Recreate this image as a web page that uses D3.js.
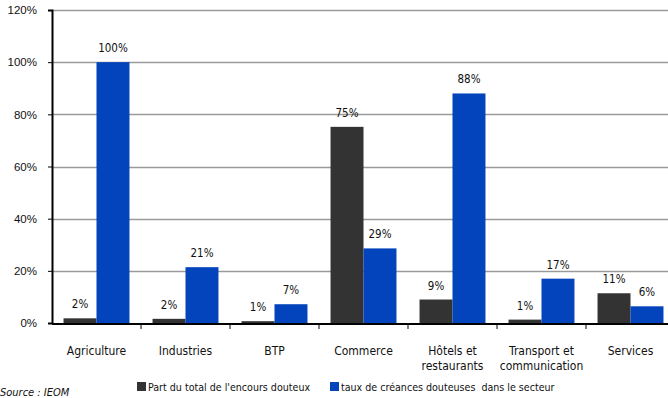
<!DOCTYPE html>
<html><head><meta charset="utf-8">
<script src="https://cdn.jsdelivr.net/npm/d3@7"></script>
<style>
body{margin:0;background:#fff;}
svg{display:block;font-family:"DejaVu Sans Condensed","DejaVu Sans",sans-serif;}
</style></head><body>
<svg id="c" width="668" height="398"></svg>
<script>
const categories = [["Agriculture"],["Industries"],["BTP"],["Commerce"],["Hôtels et","restaurants"],["Transport et","communication"],["Services"]];
const partTotal = [1.8, 1.6, 0.7, 75.2, 9.0, 1.3, 11.4];
const tauxCreances = [100, 21.4, 7.2, 28.6, 88.0, 17.0, 6.4];
const yTicks = [0, 20, 40, 60, 80, 100, 120];
const seriesNames = ["Part du total de l'encours douteux", "taux de créances douteuses  dans le secteur"];
const colors = ["#333333", "#0343bb"];

(function(){
const svg = d3.select("#c");
const mL = 52, mR = 675, mT = 10, mB = 323;
const x = d3.scaleBand().domain(d3.range(categories.length)).range([mL, mR]).paddingInner(0).paddingOuter(0);
const x1 = d3.scaleBand().domain([0,1]).range([0, x.bandwidth()]).paddingInner(0).paddingOuter(0.35);
const y = d3.scaleLinear().domain([0,120]).range([mB, mT]);

// gridlines
svg.append("g").selectAll("line").data(yTicks.filter(d=>d>0)).join("line")
  .attr("x1", mL).attr("x2", 668).attr("y1", d=>Math.round(y(d))+0.5).attr("y2", d=>Math.round(y(d))+0.5)
  .attr("stroke", "#9a9a9a").attr("stroke-width", 1.5);

// y axis
const ya = svg.append("g").attr("transform", `translate(${mL},0)`)
  .call(d3.axisLeft(y).tickValues(yTicks).tickFormat(d=>d+"%").tickSize(4).tickPadding(11));
ya.select(".domain").attr("stroke","#000").attr("stroke-width",2);
ya.selectAll(".tick line").attr("stroke","#000");
ya.selectAll("text").attr("font-size", 11.5).attr("fill","#111").attr("font-family","inherit");

// bars
const data = categories.map((c,i)=>({i, vals:[partTotal[i], tauxCreances[i]]}));
const g = svg.append("g").selectAll("g").data(data).join("g")
  .attr("transform", d=>`translate(${x(d.i)},0)`);
g.selectAll("rect").data(d=>d.vals.map((v,k)=>({v,k}))).join("rect")
  .attr("x", d=>x1(d.k)).attr("width", x1.bandwidth())
  .attr("y", d=>y(d.v)).attr("height", d=>mB - y(d.v))
  .attr("fill", d=>colors[d.k]);
g.selectAll("text.lbl").data(d=>d.vals.map((v,k)=>({v,k}))).join("text")
  .attr("class","lbl")
  .attr("x", d=>x1(d.k)+x1.bandwidth()/2).attr("y", d=>y(d.v)-10)
  .attr("text-anchor","middle").attr("font-size",11.5).attr("fill","#111")
  .text(d=>Math.round(d.v)+"%");

// x axis
const xa = svg.append("g").attr("transform", `translate(0,${mB+1})`);
xa.append("line").attr("x1", mL).attr("x2", 668).attr("stroke","#000").attr("stroke-width",2);
xa.selectAll("line.tk").data(d3.range(1, categories.length)).join("line").attr("class","tk")
  .attr("x1", d=>x(d)).attr("x2", d=>x(d)).attr("y1",0).attr("y2",5).attr("stroke","#000");
const xl = svg.append("g").selectAll("text").data(categories).join("text")
  .attr("x", (d,i)=>x(i)+x.bandwidth()/2).attr("y", 355)
  .attr("text-anchor","middle").attr("font-size",12).attr("fill","#111");
xl.selectAll("tspan").data(d=>d).join("tspan")
  .attr("x", function(){return this.parentNode.getAttribute("x");})
  .attr("dy", (d,k)=>k===0?0:15).text(d=>d);

// legend
const lx = [137, 330];
const lg = svg.append("g").selectAll("g").data(seriesNames).join("g")
  .attr("transform", (d,i)=>`translate(${lx[i]},382)`);
lg.append("rect").attr("width",9).attr("height",9).attr("fill",(d,i)=>colors[i]);
lg.append("text").attr("x",11).attr("y",9).attr("font-size",10.6).attr("fill","#111")
  .attr("xml:space","preserve").style("white-space","pre").text(d=>d);

// source
svg.append("text").attr("x",0).attr("y",396).attr("font-size",11).attr("font-style","italic")
  .attr("fill","#111").text("Source : IEOM");
})();
</script>
</body></html>
